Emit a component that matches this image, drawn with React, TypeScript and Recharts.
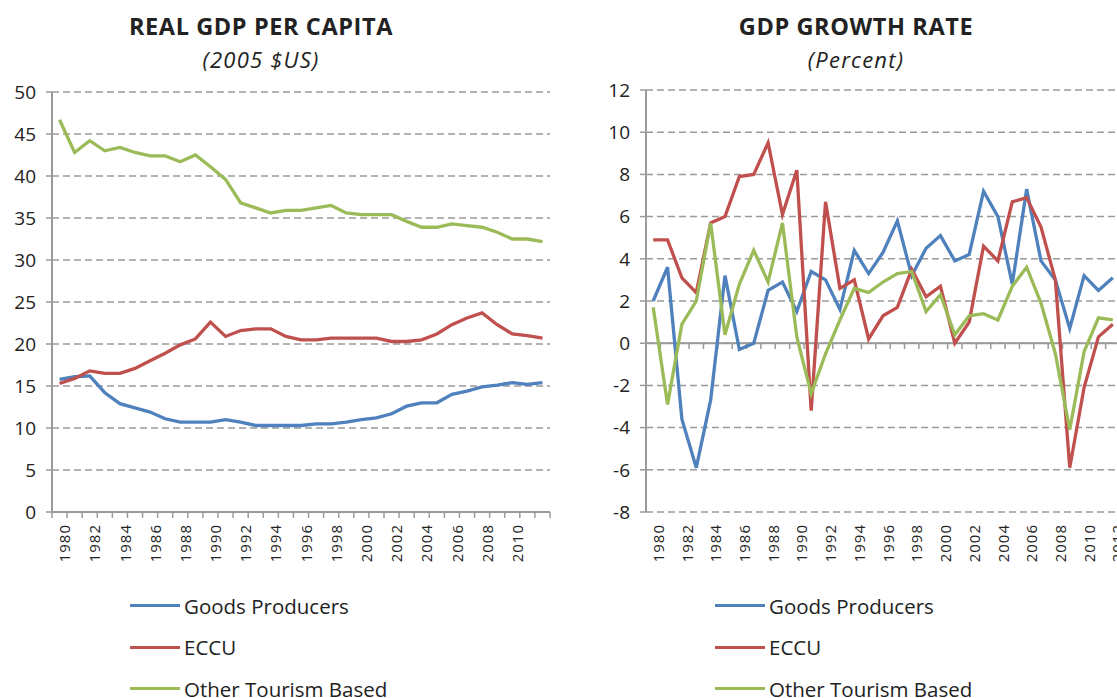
import { LineChart, Line, XAxis, YAxis, CartesianGrid, ReferenceLine } from "recharts";

const years = [
  1980, 1981, 1982, 1983, 1984, 1985, 1986, 1987, 1988, 1989, 1990, 1991, 1992, 1993, 1994, 1995, 1996,
  1997, 1998, 1999, 2000, 2001, 2002, 2003, 2004, 2005, 2006, 2007, 2008, 2009, 2010, 2011, 2012,
];

// real GDP per capita (2005 $US, thousands)
const pcGoods = [
  15.8, 16.1, 16.2, 14.2, 12.9, 12.4, 11.9, 11.1, 10.7, 10.7, 10.7, 11.0, 10.7, 10.3, 10.3, 10.3, 10.3,
  10.5, 10.5, 10.7, 11.0, 11.2, 11.7, 12.6, 13.0, 13.0, 14.0, 14.4, 14.9, 15.1, 15.4, 15.2, 15.4,
];
const pcEccu = [
  15.3, 15.9, 16.8, 16.5, 16.5, 17.1, 18.0, 18.9, 19.9, 20.6, 22.6, 20.9, 21.6, 21.8, 21.8, 20.9, 20.5,
  20.5, 20.7, 20.7, 20.7, 20.7, 20.3, 20.3, 20.5, 21.2, 22.3, 23.1, 23.7, 22.3, 21.2, 21.0, 20.7,
];
const pcOther = [
  46.7, 42.8, 44.2, 43.0, 43.4, 42.8, 42.4, 42.4, 41.7, 42.5, 41.1, 39.6, 36.8, 36.2, 35.6, 35.9, 35.9,
  36.2, 36.5, 35.6, 35.4, 35.4, 35.4, 34.6, 33.9, 33.9, 34.3, 34.1, 33.9, 33.3, 32.5, 32.5, 32.2,
];

// GDP growth rate (percent)
const grGoods = [
  2.0, 3.6, -3.6, -5.9, -2.7, 3.2, -0.3, 0.0, 2.5, 2.9, 1.5, 3.4, 3.0, 1.6, 4.4, 3.3, 4.3, 5.8, 3.2,
  4.5, 5.1, 3.9, 4.2, 7.2, 6.0, 2.8, 7.3, 3.9, 3.0, 0.7, 3.2, 2.5, 3.1,
];
const grEccu = [
  4.9, 4.9, 3.1, 2.4, 5.7, 6.0, 7.9, 8.0, 9.5, 6.1, 8.2, -3.2, 6.7, 2.6, 3.0, 0.2, 1.3, 1.7, 3.5, 2.2,
  2.7, 0.0, 1.0, 4.6, 3.9, 6.7, 6.9, 5.5, 3.0, -5.9, -2.1, 0.3, 0.9,
];
const grOther = [
  1.7, -2.9, 0.9, 2.0, 5.7, 0.4, 2.8, 4.4, 2.9, 5.7, 0.3, -2.4, -0.5, 1.1, 2.6, 2.4, 2.9, 3.3, 3.4, 1.5,
  2.3, 0.4, 1.3, 1.4, 1.1, 2.7, 3.6, 1.9, -0.5, -4.1, -0.4, 1.2, 1.1,
];

const perCapitaTicks = [0, 5, 10, 15, 20, 25, 30, 35, 40, 45, 50];
const growthTicks = [-8, -6, -4, -2, 0, 2, 4, 6, 8, 10, 12];
const leftYearTicks = [1980, 1982, 1984, 1986, 1988, 1990, 1992, 1994, 1996, 1998, 2000, 2002, 2004, 2006, 2008, 2010];
const rightYearTicks = [...leftYearTicks, 2012];

const seriesNames = ["Goods Producers", "ECCU", "Other Tourism Based"];
const seriesColors = ["#4F81BD", "#C0504D", "#9BBB59"];

const FONT = "'Open Sans', sans-serif";
const AXIS = "#9a9a9a";
const TEXT = "#222";

const perCapitaData = years.map((year, i) => ({
  year,
  goods: pcGoods[i],
  eccu: pcEccu[i],
  other: pcOther[i],
}));
const growthData = years.map((year, i) => ({
  year,
  goods: grGoods[i],
  eccu: grEccu[i],
  other: grOther[i],
}));
// excel puts category tick marks between the years
const boundaries = [...years.map((y) => y - 0.5), years[years.length - 1] + 0.5];
const xDomain = [boundaries[0], boundaries[boundaries.length - 1]];

const yTick = { fontSize: 19, fill: TEXT, fontFamily: FONT };
const xTick = { fontSize: 15, fill: TEXT, fontFamily: FONT, letterSpacing: 1 };

function seriesLines() {
  return ["goods", "eccu", "other"].map((key, i) => (
    <Line
      key={key}
      type="linear"
      dataKey={key}
      name={seriesNames[i]}
      stroke={seriesColors[i]}
      strokeWidth={3.3}
      dot={false}
      isAnimationActive={false}
    />
  ));
}

function LegendBlock({ left }: { left: number }) {
  return (
    <div style={{ position: "absolute", left, top: 585 }}>
      {seriesNames.map((name, i) => (
        <div key={name} style={{ display: "flex", alignItems: "center", height: 41.5 }}>
          <span style={{ width: 50, height: 3, background: seriesColors[i], marginRight: 4 }} />
          <span style={{ fontSize: 20.5, color: TEXT }}>{name}</span>
        </div>
      ))}
    </div>
  );
}

function Title({ center, title, sub }: { center: number; title: string; sub: string }) {
  return (
    <div style={{ position: "absolute", left: center - 200, top: 10, width: 400, textAlign: "center", color: TEXT }}>
      <div style={{ fontSize: 23.5, fontWeight: 700, lineHeight: "32px", letterSpacing: 0.6 }}>{title}</div>
      <div style={{ fontSize: 22, fontStyle: "italic", lineHeight: "34px", letterSpacing: 1.2 }}>{sub}</div>
    </div>
  );
}

export default function App() {
  return (
    <div
      style={{
        position: "absolute",
        left: 0,
        top: 0,
        width: 1117,
        height: 698,
        overflow: "hidden",
        background: "#fff",
        fontFamily: FONT,
      }}
    >
      <Title center={261} title="REAL GDP PER CAPITA" sub="(2005 $US)" />
      <Title center={856} title="GDP GROWTH RATE" sub="(Percent)" />

      <div style={{ position: "absolute", left: 0, top: 0 }}>
        <LineChart width={560} height={580} data={perCapitaData} margin={{ top: 92, right: 10, left: 0, bottom: 8 }}>
          <CartesianGrid vertical={false} stroke={AXIS} strokeDasharray="7 4" strokeWidth={1.5} />
          <XAxis
            dataKey="year"
            type="number"
            domain={xDomain}
            ticks={leftYearTicks}
            interval={0}
            height={60}
            angle={-90}
            textAnchor="end"
            tickLine={false}
            tickSize={4}
            tickMargin={8}
            axisLine={{ stroke: AXIS, strokeWidth: 2 }}
            tick={xTick}
          />
          <YAxis
            domain={[0, 50]}
            ticks={perCapitaTicks}
            width={52}
            tickSize={6}
            tickMargin={10}
            stroke={AXIS}
            axisLine={{ stroke: AXIS, strokeWidth: 2 }}
            tickLine={{ stroke: AXIS, strokeWidth: 1.5 }}
            tick={yTick}
          />
          {boundaries.map((b) => (
            <ReferenceLine
              key={b}
              segment={[{ x: b, y: 0 }, { x: b, y: -0.7 }]}
              ifOverflow="visible"
              stroke={AXIS}
              strokeWidth={1.5}
            />
          ))}
          {seriesLines()}
        </LineChart>
      </div>

      <div style={{ position: "absolute", left: 560, top: 0 }}>
        <LineChart width={570} height={580} data={growthData} margin={{ top: 90, right: 10, left: 0, bottom: 8 }}>
          <CartesianGrid vertical={false} stroke={AXIS} strokeDasharray="7 4" strokeWidth={1.5} />
          <XAxis
            dataKey="year"
            type="number"
            domain={xDomain}
            ticks={rightYearTicks}
            interval={0}
            height={60}
            angle={-90}
            textAnchor="end"
            tickLine={false}
            axisLine={false}
            tickSize={4}
            tickMargin={8}
            tick={xTick}
          />
          <YAxis
            domain={[-8, 12]}
            ticks={growthTicks}
            width={86}
            tickSize={6}
            tickMargin={10}
            stroke={AXIS}
            axisLine={{ stroke: AXIS, strokeWidth: 2 }}
            tickLine={{ stroke: AXIS, strokeWidth: 1.5 }}
            tick={yTick}
          />
          <ReferenceLine y={0} stroke={AXIS} strokeWidth={2} />
          {boundaries.map((b) => (
            <ReferenceLine
              key={b}
              segment={[{ x: b, y: 0 }, { x: b, y: -0.28 }]}
              stroke={AXIS}
              strokeWidth={1.5}
            />
          ))}
          {seriesLines()}
        </LineChart>
      </div>

      <LegendBlock left={130} />
      <LegendBlock left={715} />
    </div>
  );
}
